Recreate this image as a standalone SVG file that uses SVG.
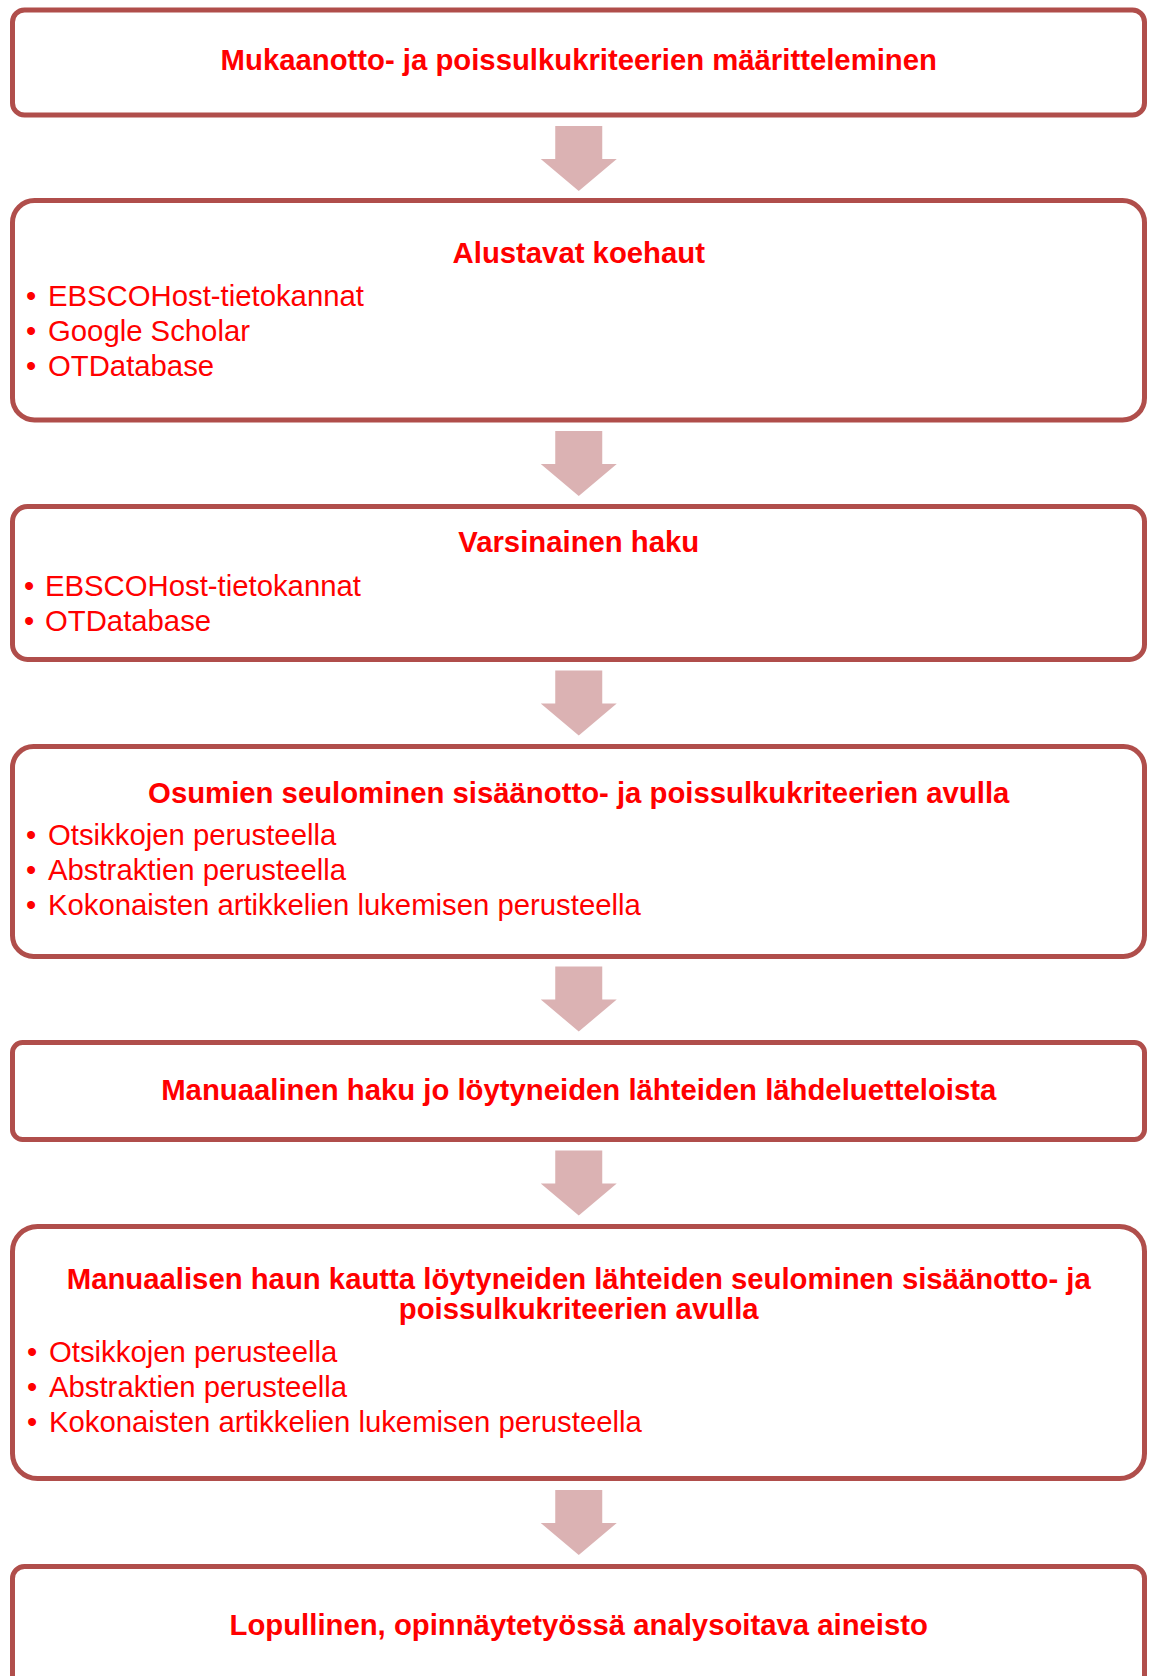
<svg xmlns="http://www.w3.org/2000/svg" width="1149" height="1676" viewBox="0 0 1149 1676">
<style>
.box{fill:#ffffff;stroke:#b04e4b;stroke-width:5}
.arrow{fill:#dbb2b3}
.t{font-family:"Liberation Sans",Arial,sans-serif;font-size:29.3px;font-weight:bold;fill:#ff0000;text-anchor:middle}
.b{font-family:"Liberation Sans",Arial,sans-serif;font-size:29.3px;fill:#ff0000}
</style>
<defs>
<path id="arr" d="M-23.5,0 H23.5 V33 H38 L0,65 L-38,33 H-23.5 Z"/>
</defs>
<rect width="1149" height="1676" fill="#ffffff"/>
<g id="connectors">
<use href="#arr" class="arrow" x="578.75" y="126"/>
<use href="#arr" class="arrow" x="578.75" y="431"/>
<use href="#arr" class="arrow" x="578.75" y="670.5"/>
<use href="#arr" class="arrow" x="578.75" y="966.5"/>
<use href="#arr" class="arrow" x="578.75" y="1150.5"/>
<use href="#arr" class="arrow" x="578.75" y="1490"/>
</g>
<g id="node1">
<rect class="box" x="12.5" y="10" width="1132" height="105" rx="12"/>
<text class="t" x="578.75" y="70">Mukaanotto- ja poissulkukriteerien määritteleminen</text>
</g>
<g id="node2">
<rect class="box" x="12.5" y="200.5" width="1132" height="219.5" rx="22"/>
<text class="t" x="578.75" y="263">Alustavat koehaut</text>
<text class="b" x="26" y="306">•</text><text class="b" x="48" y="306">EBSCOHost-tietokannat</text>
<text class="b" x="26" y="341">•</text><text class="b" x="48" y="341">Google Scholar</text>
<text class="b" x="26" y="376">•</text><text class="b" x="48" y="376">OTDatabase</text>
</g>
<g id="node3">
<rect class="box" x="12.5" y="506.5" width="1132" height="153" rx="15"/>
<text class="t" x="578.75" y="552">Varsinainen haku</text>
<text class="b" x="24" y="596">•</text><text class="b" x="45" y="596">EBSCOHost-tietokannat</text>
<text class="b" x="24" y="631">•</text><text class="b" x="45" y="631">OTDatabase</text>
</g>
<g id="node4">
<rect class="box" x="12.5" y="746.5" width="1132" height="210" rx="21"/>
<text class="t" x="578.75" y="803">Osumien seulominen sisäänotto- ja poissulkukriteerien avulla</text>
<text class="b" x="26" y="845">•</text><text class="b" x="48" y="845">Otsikkojen perusteella</text>
<text class="b" x="26" y="880">•</text><text class="b" x="48" y="880">Abstraktien perusteella</text>
<text class="b" x="26" y="915">•</text><text class="b" x="48" y="915">Kokonaisten artikkelien lukemisen perusteella</text>
</g>
<g id="node5">
<rect class="box" x="12.5" y="1042.5" width="1132" height="97" rx="10"/>
<text class="t" x="578.75" y="1100">Manuaalinen haku jo löytyneiden lähteiden lähdeluetteloista</text>
</g>
<g id="node6">
<rect class="box" x="12.5" y="1226.5" width="1132" height="252" rx="25"/>
<text class="t" x="578.75" y="1289">Manuaalisen haun kautta löytyneiden lähteiden seulominen sisäänotto- ja</text>
<text class="t" x="578.75" y="1319">poissulkukriteerien avulla</text>
<text class="b" x="27" y="1362">•</text><text class="b" x="49" y="1362">Otsikkojen perusteella</text>
<text class="b" x="27" y="1397">•</text><text class="b" x="49" y="1397">Abstraktien perusteella</text>
<text class="b" x="27" y="1432">•</text><text class="b" x="49" y="1432">Kokonaisten artikkelien lukemisen perusteella</text>
</g>
<g id="node7">
<rect class="box" x="12.5" y="1566.5" width="1132" height="140" rx="12"/>
<text class="t" x="578.75" y="1635">Lopullinen, opinnäytetyössä analysoitava aineisto</text>
</g>
</svg>
